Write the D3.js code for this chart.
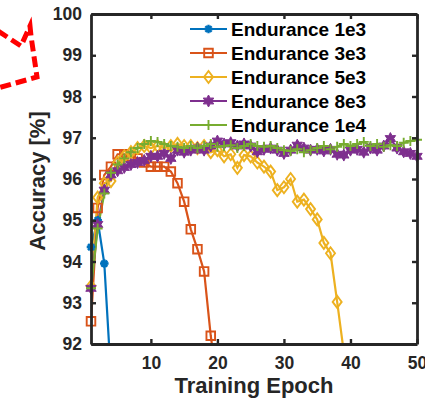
<!DOCTYPE html>
<html>
<head>
<meta charset="utf-8">
<script src="https://cdn.jsdelivr.net/npm/d3@7"></script>
<style>
  body { margin: 0; background: #fff; }
  svg { display: block; font-family: "Liberation Sans", Arial, sans-serif; }
  .tick text { font-weight: bold; font-size: 17.5px; fill: #262626; }
  .axis-label { font-weight: bold; font-size: 22px; fill: #262626; }
  .legend-text { font-weight: bold; font-size: 19px; fill: #000; }
</style>
</head>
<body>
<div id="chart"></div>
<script>
// Values (accuracy in %, one value per epoch starting at 1)
const series = ['Endurance 1e3', 'Endurance 3e3', 'Endurance 5e3', 'Endurance 8e3', 'Endurance 1e4'];
const acc1e3 = [94.35, 95.0, 93.95, 91.2];
const acc3e3 = [92.55, 95.3, 96.1, 96.3, 96.6, 96.6, 96.55, 96.5, 96.4, 96.3,
  96.3, 96.3, 96.18, 95.9, 95.45, 94.78, 94.3, 93.76, 92.2, 91.0];
const acc5e3 = [93.4, 95.55, 95.9, 95.95, 96.4, 96.55, 96.65, 96.75, 96.8, 96.75,
  96.8, 96.75, 96.8, 96.85, 96.8, 96.8, 96.75, 96.8, 96.65, 96.7,
  96.55, 96.6, 96.27, 96.58, 96.55, 96.4, 96.3, 96.18, 95.73, 95.8,
  96.0, 95.45, 95.5, 95.27, 95.02, 94.45, 94.2, 93.02, 91.8];
const acc8e3 = [93.35, 94.9, 95.73, 96.1, 96.2, 96.28, 96.35, 96.4, 96.45, 96.55,
  96.55, 96.62, 96.5, 96.7, 96.65, 96.7, 96.75, 96.7, 96.8, 96.92,
  96.85, 96.88, 96.8, 96.85, 96.8, 96.66, 96.72, 96.75, 96.7, 96.62,
  96.7, 96.82, 96.75, 96.7, 96.72, 96.68, 96.72, 96.6, 96.58, 96.7,
  96.72, 96.65, 96.75, 96.7, 96.8, 96.98, 96.75, 96.66, 96.62, 96.55];
const acc1e4 = [93.35, 94.8, 95.65, 96.15, 96.35, 96.5, 96.65, 96.75, 96.85, 96.92,
  96.9, 96.85, 96.8, 96.78, 96.75, 96.8, 96.75, 96.8, 96.85, 96.78,
  96.8, 96.82, 96.75, 96.8, 96.85, 96.8, 96.78, 96.8, 96.75, 96.7,
  96.68, 96.72, 96.65, 96.7, 96.75, 96.8, 96.72, 96.78, 96.85, 96.8,
  96.85, 96.9, 96.8, 96.85, 96.78, 96.82, 96.8, 96.88, 96.92, 96.95];
const xTicks = [10, 20, 30, 40, 50];
const yTicks = [92, 93, 94, 95, 96, 97, 98, 99, 100];

const colors = ['#0072BD', '#D95319', '#EDB120', '#7E2F8E', '#77AC30'];
const markers = ['asterisk', 'square', 'diamond', 'hexagram', 'plus'];
const allData = [acc1e3, acc3e3, acc5e3, acc8e3, acc1e4];

const width = 425, height = 404;
const margin = { top: 14, right: 8, bottom: 60, left: 91 };

const svg = d3.select('#chart').append('svg')
  .attr('width', width)
  .attr('height', height);

const x = d3.scaleLinear().domain([1, 50]).range([margin.left, width - margin.right]);
const y = d3.scaleLinear().domain([92, 100]).range([height - margin.bottom, margin.top]);

// red dashed arrow outline cut off at the top-left corner
svg.append('path')
  .attr('d', 'M-2,31 L21,46 L30,26 L31,36 L37,77 L-2,88')
  .attr('fill', 'none')
  .attr('stroke', '#ff0000')
  .attr('stroke-width', 5)
  .attr('stroke-dasharray', '11,5');

svg.append('clipPath').attr('id', 'plot-clip')
  .append('rect')
  .attr('x', x(1)).attr('y', y(100))
  .attr('width', x(50) - x(1)).attr('height', y(92) - y(100));

// marker shapes
function markerPath(type) {
  if (type === 'square') return 'M-4.3,-4.3H4.3V4.3H-4.3Z';
  if (type === 'diamond') return 'M0,-6L4.5,0L0,6L-4.5,0Z';
  if (type === 'plus') return 'M-5,0H5M0,-5V5';
  if (type === 'asterisk') return 'M-4.3,0H4.3M0,-4.3V4.3M-3,-3L3,3M-3,3L3,-3';
  // six pointed star
  const pts = [];
  for (let i = 0; i < 12; i++) {
    const a = -Math.PI / 2 + i * Math.PI / 6;
    const r = i % 2 === 0 ? 6 : 3.3;
    pts.push([r * Math.cos(a), r * Math.sin(a)]);
  }
  return 'M' + pts.map(p => p.join(',')).join('L') + 'Z';
}

function drawMarker(g, type, color) {
  const p = g.append('path').attr('d', markerPath(type));
  if (type === 'hexagram') {
    p.attr('fill', color).attr('stroke', color).attr('stroke-width', 1);
  } else if (type === 'asterisk') {
    p.attr('fill', 'none').attr('stroke', color).attr('stroke-width', 2.4);
    g.append('circle').attr('r', 3).attr('fill', color);
  } else {
    p.attr('fill', 'none').attr('stroke', color).attr('stroke-width', 1.9);
  }
}

const line = d3.line()
  .x((d, i) => x(i + 1))
  .y(d => y(d));

const plot = svg.append('g').attr('clip-path', 'url(#plot-clip)');
const marks = svg.append('g');

allData.forEach((vals, k) => {
  plot.append('path')
    .datum(vals)
    .attr('d', line)
    .attr('fill', 'none')
    .attr('stroke', colors[k])
    .attr('stroke-width', 2.2);

  // markers are only drawn for points inside the y limits, but not clipped
  marks.append('g').selectAll('g')
    .data(vals.map((v, i) => ({ e: i + 1, v })).filter(d => d.v >= 92 && d.v <= 100))
    .join('g')
    .attr('transform', d => `translate(${x(d.e)},${y(d.v)})`)
    .each(function() { drawMarker(d3.select(this), markers[k], colors[k]); });
});

// axes (box with inward ticks)
const axisColor = '#262626';
const xAxis = svg.append('g')
  .attr('transform', `translate(0,${y(92)})`)
  .call(d3.axisBottom(x).tickValues(xTicks).tickSizeInner(-5).tickSizeOuter(0).tickPadding(13));
const yAxis = svg.append('g')
  .attr('transform', `translate(${x(1)},0)`)
  .call(d3.axisLeft(y).tickValues(yTicks).tickSizeInner(-5).tickSizeOuter(0).tickPadding(9));
const xTop = svg.append('g')
  .attr('transform', `translate(0,${y(100)})`)
  .call(d3.axisTop(x).tickValues(xTicks).tickSizeInner(-5).tickSizeOuter(0).tickFormat(''));
const yRight = svg.append('g')
  .attr('transform', `translate(${x(50)},0)`)
  .call(d3.axisRight(y).tickValues(yTicks).tickSizeInner(-5).tickSizeOuter(0).tickFormat(''));

[xAxis, yAxis, xTop, yRight].forEach(a => {
  a.select('.domain').attr('stroke', axisColor).attr('stroke-width', 2.8);
  a.selectAll('.tick line').attr('stroke', axisColor).attr('stroke-width', 2.4);
  a.selectAll('.tick text').attr('font-family', null).attr('font-size', null);
});

// axis labels
svg.append('text')
  .attr('class', 'axis-label')
  .attr('x', 254)
  .attr('y', 393)
  .attr('text-anchor', 'middle')
  .text('Training Epoch');
svg.append('text')
  .attr('class', 'axis-label')
  .attr('transform', 'translate(45,181) rotate(-90)')
  .attr('text-anchor', 'middle')
  .text('Accuracy [%]');

// legend
const legend = svg.append('g').attr('transform', 'translate(190,29)');
const legendItems = legend.selectAll('g')
  .data(series)
  .join('g')
  .attr('transform', (d, i) => `translate(0,${i * 24})`);

legendItems.append('line')
  .attr('x1', 0).attr('x2', 37)
  .attr('stroke', (d, i) => colors[i])
  .attr('stroke-width', 2.2);
legendItems.append('g')
  .attr('transform', 'translate(18.5,0)')
  .each(function(d, i) { drawMarker(d3.select(this), markers[i], colors[i]); });
legendItems.append('text')
  .attr('class', 'legend-text')
  .attr('x', 41)
  .attr('y', 7)
  .text(d => d);
</script>
</body>
</html>
